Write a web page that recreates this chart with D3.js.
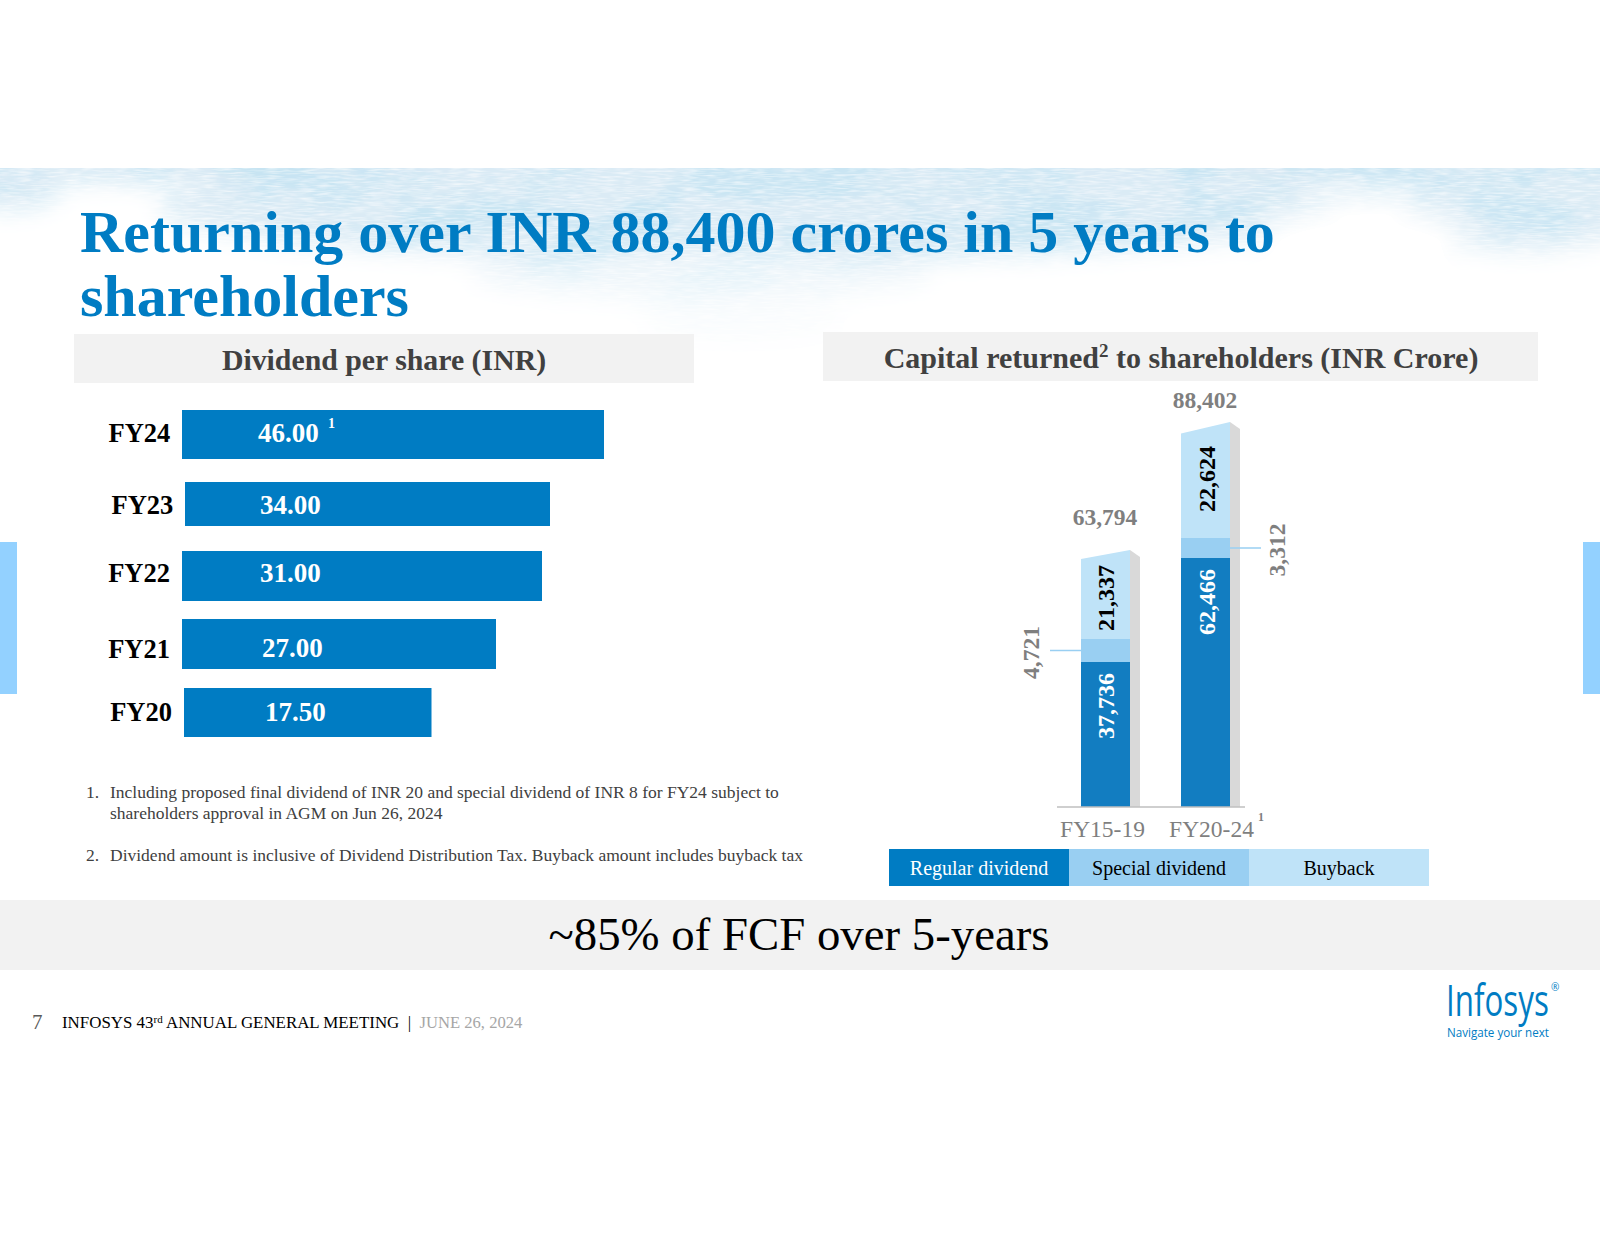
<!DOCTYPE html>
<html>
<head>
<meta charset="utf-8">
<title>Returning over INR 88,400 crores</title>
<script src="https://cdn.jsdelivr.net/npm/d3@7"></script>
<style>
  body { margin: 0; background: #fff; }
  svg { display: block; }
  text { font-family: "Liberation Serif", serif; }
</style>
</head>
<body>
<script>
// dividend per share
var dpsYears = ["FY24", "FY23", "FY22", "FY21", "FY20"];
var dpsValues = [46, 34, 31, 27, 17.5];

// capital returned, INR crore
var periods = ["FY15-19", "FY20-24"];
var regularDividend = [37736, 62466];
var specialDividend = [4721, 3312];
var buyback = [21337, 22624];
var totals = [63794, 88402];
var legendLabels = ["Regular dividend", "Special dividend", "Buyback"];

var blue = "#007cc3", barBlue = "#127dc1", midBlue = "#99cff2", paleBlue = "#bfe3f8";

var svg = d3.select("body").append("svg")
    .attr("width", 1600)
    .attr("height", 1236);

var defs = svg.append("defs");

// watercolour band behind the title: blotches plus fine paper lines
var blotch = defs.append("filter").attr("id", "blotch")
    .attr("x", 0).attr("y", 0).attr("width", 1).attr("height", 1);
blotch.append("feTurbulence")
    .attr("type", "fractalNoise")
    .attr("baseFrequency", "0.011 0.02")
    .attr("numOctaves", 5)
    .attr("seed", 11);
blotch.append("feColorMatrix")
    .attr("type", "matrix")
    .attr("values", "0 0 0 0 0.56  0 0 0 0 0.77  0 0 0 0 0.89  4.2 0 0 0 -1.75");

var paper = defs.append("filter").attr("id", "paper")
    .attr("x", 0).attr("y", 0).attr("width", 1).attr("height", 1);
paper.append("feTurbulence")
    .attr("type", "fractalNoise")
    .attr("baseFrequency", "0.06 0.55")
    .attr("numOctaves", 2)
    .attr("seed", 3);
paper.append("feColorMatrix")
    .attr("type", "matrix")
    .attr("values", "0 0 0 0 1  0 0 0 0 1  0 0 0 0 1  1.3 0 0 0 -0.52");

var soft = defs.append("filter").attr("id", "soft")
    .attr("x", "-20%").attr("y", "-50%").attr("width", "140%").attr("height", "200%");
soft.append("feGaussianBlur").attr("stdDeviation", 12);

var mask = defs.append("mask").attr("id", "washMask")
    .attr("maskUnits", "userSpaceOnUse")
    .attr("x", 0).attr("y", 168).attr("width", 1600).attr("height", 200);
var maskG = mask.append("g").attr("filter", "url(#soft)");
var washShapes = [
  {cx: 800, cy: 165, rx: 900, ry: 26, fill: "#fff"},
  {cx: 750, cy: 208, rx: 590, ry: 52, fill: "#e8e8e8"},
  {cx: 1530, cy: 205, rx: 120, ry: 44, fill: "#e0e0e0"},
  {cx: 10, cy: 186, rx: 50, ry: 22, fill: "#eee"},
  {cx: 1360, cy: 232, rx: 110, ry: 36, fill: "#000"},
  {cx: 700, cy: 272, rx: 230, ry: 24, fill: "#666"},
  {cx: 740, cy: 320, rx: 100, ry: 18, fill: "#222"}
];
maskG.selectAll("ellipse").data(washShapes).enter().append("ellipse")
    .attr("cx", function(d) { return d.cx; })
    .attr("cy", function(d) { return d.cy; })
    .attr("rx", function(d) { return d.rx; })
    .attr("ry", function(d) { return d.ry; })
    .attr("fill", function(d) { return d.fill; });

var washG = svg.append("g").attr("mask", "url(#washMask)");
washG.append("rect").attr("x", 0).attr("y", 168).attr("width", 1600).attr("height", 200).attr("fill", "#d7e9f4");
washG.append("rect").attr("x", 0).attr("y", 168).attr("width", 1600).attr("height", 200).attr("filter", "url(#blotch)");
washG.append("rect").attr("x", 0).attr("y", 168).attr("width", 1600).attr("height", 200).attr("filter", "url(#paper)");

// side tabs
svg.selectAll("rect.tab").data([0, 1583]).enter().append("rect")
    .attr("class", "tab")
    .attr("x", function(d) { return d; })
    .attr("y", 542).attr("width", 17).attr("height", 152)
    .attr("fill", "#93d1ff");

// title
svg.append("g").selectAll("text")
    .data(["Returning over INR 88,400 crores in 5 years to", "shareholders"])
  .enter().append("text")
    .attr("x", 80)
    .attr("y", function(d, i) { return 252 + i * 64; })
    .attr("font-size", 60)
    .attr("font-weight", "bold")
    .attr("fill", blue)
    .text(function(d) { return d; });

// panel headings
svg.append("rect").attr("x", 74).attr("y", 334).attr("width", 620).attr("height", 49).attr("fill", "#f2f2f2");
svg.append("rect").attr("x", 823).attr("y", 332).attr("width", 715).attr("height", 49).attr("fill", "#f2f2f2");

svg.append("text")
    .attr("x", 384).attr("y", 370)
    .attr("text-anchor", "middle")
    .attr("font-size", 29.8).attr("font-weight", "bold").attr("fill", "#404040")
    .text("Dividend per share (INR)");

var capHead = svg.append("text")
    .attr("x", 1181).attr("y", 368)
    .attr("text-anchor", "middle")
    .attr("font-size", 30).attr("font-weight", "bold").attr("fill", "#404040");
capHead.append("tspan").text("Capital returned");
capHead.append("tspan").attr("dy", -11).attr("font-size", 19).text("2");
capHead.append("tspan").attr("dy", 11).text(" to shareholders (INR Crore)");

// left chart: the slide's bars are not drawn to scale, so the scale bends to follow them
var xDps = d3.scaleLinear()
    .domain([0, 17.5, 27, 31, 34, 46])
    .range([0, 247.5, 314, 360, 365, 422]);

var yDps = d3.scaleBand()
    .domain(dpsYears)
    .range([410, 737])
    .paddingInner(0.295);

// rows were placed by hand on the slide
var rowLeft = [182, 185, 182, 182, 184];
var rowShift = [0, 2.5, 2, 0.5, 0];
var rowGrow = [0, -5, 1, 1, 0];
var labelDrop = [7.5, 10, 8.5, 13.5, 8.5];
var dpsLabelX = [258, 260, 260, 262, 265];
var catShift = [-0.7, 2.3, -1, -1, 1];
var catDrop = [0, 0, 0, 1.5, 0];

svg.append("g").selectAll("rect")
    .data(dpsValues)
  .enter().append("rect")
    .attr("x", function(d, i) { return rowLeft[i]; })
    .attr("y", function(d, i) { return yDps(dpsYears[i]) + rowShift[i]; })
    .attr("width", function(d) { return xDps(d); })
    .attr("height", function(d, i) { return yDps.bandwidth() + rowGrow[i]; })
    .attr("fill", blue);

svg.append("g").selectAll("text")
    .data(dpsValues)
  .enter().append("text")
    .attr("x", function(d, i) { return dpsLabelX[i]; })
    .attr("y", function(d, i) { return yDps(dpsYears[i]) + yDps.bandwidth() / 2 + labelDrop[i]; })
    .attr("font-size", 27).attr("font-weight", "bold").attr("fill", "#fff")
    .text(function(d) { return d3.format(".2f")(d); });

svg.append("text")
    .attr("x", 328).attr("y", 428)
    .attr("font-size", 14).attr("font-weight", "bold").attr("fill", "#fff")
    .text("1");

var dpsAxis = svg.append("g")
    .attr("transform", "translate(171,0)")
    .call(d3.axisLeft(yDps).tickSize(0).tickPadding(0));
dpsAxis.select(".domain").remove();
dpsAxis.selectAll("text")
    .attr("font-family", "Liberation Serif")
    .attr("font-size", 26.5).attr("font-weight", "bold").attr("fill", "#000")
    .attr("x", function(d, i) { return catShift[i]; })
    .attr("y", function(d, i) { return labelDrop[i] - 8.5 + catDrop[i]; });

// footnotes
var notes = [
  {n: "1.", lines: ["Including proposed final dividend of INR 20 and special dividend of INR 8 for FY24 subject to",
                    "shareholders approval in AGM on Jun 26, 2024"], y: 798},
  {n: "2.", lines: ["Dividend amount is inclusive of Dividend Distribution Tax. Buyback amount includes buyback tax"], y: 861}
];
notes.forEach(function(note) {
  svg.append("text").attr("x", 86).attr("y", note.y)
      .attr("font-size", 17.5).attr("fill", "#404040").text(note.n);
  note.lines.forEach(function(line, i) {
    svg.append("text").attr("x", 110).attr("y", note.y + i * 21)
        .attr("font-size", 17.5).attr("fill", "#404040").text(line);
  });
});

// right chart: same story, the knots follow the stacked tops as the slide drew them
var baseY = 807;
var xCap = d3.scaleBand()
    .domain(periods)
    .range([1081, 1230])
    .paddingInner(0.51);

var yCap = d3.scaleLinear()
    .domain([0, 37736, 42457, 62466, 65778, 88402])
    .range([baseY, baseY - 145, baseY - 168, baseY - 249, baseY - 269, baseY - 385]);

var depth = 10;
var buybackDrop = [48, 57];
var totalLift = [25, 14];

periods.forEach(function(p, i) {
  var x0 = xCap(p), x1 = x0 + xCap.bandwidth();
  var yRegular = yCap(regularDividend[i]);
  var ySpecial = yCap(regularDividend[i] + specialDividend[i]);
  var yTop = yCap(totals[i]);
  var slant = (ySpecial - yTop) * 0.1;

  // side face
  svg.append("path")
      .attr("d", d3.line()([[x1, yTop], [x1 + depth, yTop + 7], [x1 + depth, baseY], [x1, baseY]]))
      .attr("fill", "#d9d9d9");

  svg.append("rect").attr("x", x0).attr("y", yRegular)
      .attr("width", xCap.bandwidth()).attr("height", baseY - yRegular)
      .attr("fill", barBlue);
  svg.append("rect").attr("x", x0).attr("y", ySpecial)
      .attr("width", xCap.bandwidth()).attr("height", yRegular - ySpecial)
      .attr("fill", midBlue);
  svg.append("path")
      .attr("d", d3.line()([[x0, ySpecial], [x0, yTop + slant], [x1, yTop], [x1, ySpecial]]))
      .attr("fill", paleBlue);

  // rotated labels inside the bar
  var cx = x0 + xCap.bandwidth() / 2 + 1;
  var lx = cx + (i ? 8 : 7);
  svg.append("text")
      .attr("transform", "translate(" + lx + "," + (yRegular + 44) + ") rotate(-90)")
      .attr("text-anchor", "middle")
      .attr("font-size", 24).attr("font-weight", "bold").attr("fill", "#fff")
      .text(d3.format(",")(regularDividend[i]));
  svg.append("text")
      .attr("transform", "translate(" + lx + "," + (yTop + buybackDrop[i]) + ") rotate(-90)")
      .attr("text-anchor", "middle")
      .attr("font-size", 24).attr("font-weight", "bold").attr("fill", "#000")
      .text(d3.format(",")(buyback[i]));

  svg.append("text")
      .attr("x", cx - 1.5)
      .attr("y", yTop - totalLift[i])
      .attr("text-anchor", "middle")
      .attr("font-size", 23.5).attr("font-weight", "bold").attr("fill", "#7f7f7f")
      .text(d3.format(",")(totals[i]));

  // special dividend call-out sits beside the bar
  var midY = (yRegular + ySpecial) / 2;
  var leftSide = i === 0;
  svg.append("line")
      .attr("x1", leftSide ? x0 - 31 : x1)
      .attr("x2", leftSide ? x0 : x1 + 31)
      .attr("y1", midY).attr("y2", midY)
      .attr("stroke", midBlue).attr("stroke-width", 1.5);
  svg.append("text")
      .attr("transform", "translate(" + (leftSide ? x0 - 42 : x1 + 55) + "," + (midY + 2) + ") rotate(-90)")
      .attr("text-anchor", "middle")
      .attr("font-size", 23.5).attr("font-weight", "bold").attr("fill", "#7f7f7f")
      .text(d3.format(",")(specialDividend[i]));
});

svg.append("line")
    .attr("x1", 1057).attr("x2", 1245)
    .attr("y1", baseY).attr("y2", baseY)
    .attr("stroke", "#bfbfbf").attr("stroke-width", 1.5);

var capAxis = svg.append("g")
    .attr("transform", "translate(0," + baseY + ")")
    .call(d3.axisBottom(xCap).tickSize(0).tickPadding(13));
capAxis.select(".domain").remove();
capAxis.selectAll("text")
    .attr("font-family", "Liberation Serif")
    .attr("font-size", 23.5).attr("fill", "#7f7f7f")
    .attr("dx", function(d, i) { return i ? 6 : -3; });

svg.append("text")
    .attr("x", 1258).attr("y", 821)
    .attr("font-size", 12).attr("font-weight", "bold").attr("fill", "#7f7f7f")
    .text("1");

// legend strip
var xLegend = d3.scaleBand()
    .domain(legendLabels)
    .range([889, 1429]);

svg.append("g").selectAll("rect")
    .data(legendLabels)
  .enter().append("rect")
    .attr("x", function(d) { return xLegend(d); })
    .attr("y", 849)
    .attr("width", xLegend.bandwidth())
    .attr("height", 37)
    .attr("fill", function(d, i) { return [blue, midBlue, paleBlue][i]; });

svg.append("g").selectAll("text")
    .data(legendLabels)
  .enter().append("text")
    .attr("x", function(d) { return xLegend(d) + xLegend.bandwidth() / 2; })
    .attr("y", 875)
    .attr("text-anchor", "middle")
    .attr("font-size", 20)
    .attr("fill", function(d, i) { return i ? "#000" : "#fff"; })
    .text(function(d) { return d; });

// bottom message
svg.append("rect").attr("x", 0).attr("y", 900).attr("width", 1600).attr("height", 70).attr("fill", "#f2f2f2");
svg.append("text")
    .attr("x", 799).attr("y", 950)
    .attr("text-anchor", "middle")
    .attr("font-size", 46.8).attr("fill", "#000")
    .text("~85% of FCF over 5-years");

// footer
svg.append("text").attr("x", 32).attr("y", 1029)
    .attr("font-size", 21).attr("fill", "#595959").text("7");
var foot = svg.append("text").attr("x", 62).attr("y", 1028)
    .attr("font-size", 16.9).attr("fill", "#000");
foot.append("tspan").text("INFOSYS 43");
foot.append("tspan").attr("dy", -5).attr("font-size", 11).text("rd");
foot.append("tspan").attr("dy", 5).text(" ANNUAL GENERAL MEETING\u00a0\u00a0|\u00a0\u00a0");
foot.append("tspan").attr("fill", "#a6a6a6").attr("font-size", 16.6).text("JUNE 26, 2024");

// logo, squeezed sideways like the wordmark
var logoWord = svg.append("text")
    .attr("font-size", 44).attr("fill", blue)
    .style("font-family", "'Open Sans', sans-serif")
    .text("Infosys");
var logoWidth = logoWord.node().getComputedTextLength();
logoWord.attr("transform", "translate(1446,1016) scale(" + (103 / logoWidth) + ",1)");

svg.append("text")
    .attr("x", 1551).attr("y", 991)
    .attr("font-size", 10).attr("fill", blue)
    .style("font-family", "'Open Sans', sans-serif")
    .text("®");

var logoLine = svg.append("text")
    .attr("font-size", 13).attr("fill", blue)
    .style("font-family", "'Open Sans', sans-serif")
    .text("Navigate your next");
var lineWidth = logoLine.node().getComputedTextLength();
logoLine.attr("transform", "translate(1447,1037) scale(" + (102 / lineWidth) + ",1)");
</script>
</body>
</html>
